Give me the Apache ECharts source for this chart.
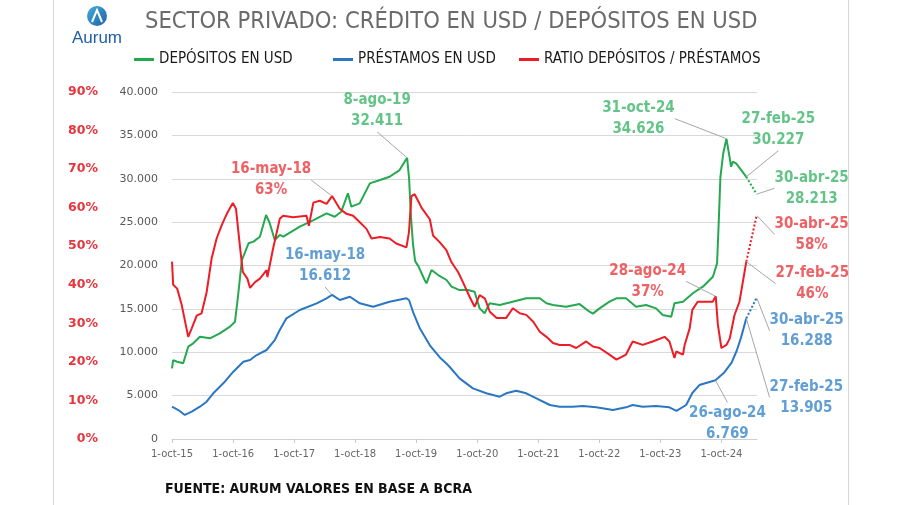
<!DOCTYPE html>
<html><head><meta charset="utf-8">
<script src="https://cdn.jsdelivr.net/npm/echarts@6/dist/echarts.min.js"></script>
<style>html,body{margin:0;padding:0;background:#fff}#c{width:900px;height:505px}</style>
</head><body><div id="c"></div>
<script>
// ---------- DATA ----------
const titleText = 'SECTOR PRIVADO: CRÉDITO EN USD / DEPÓSITOS EN USD';
const sourceText = 'FUENTE: AURUM VALORES EN BASE A BCRA';
const seriesNames = ['DEPÓSITOS EN USD', 'PRÉSTAMOS EN USD', 'RATIO DEPÓSITOS / PRÉSTAMOS'];

const xTickDates = ['2015-10-01','2016-10-01','2017-10-01','2018-10-01','2019-10-01','2020-10-01','2021-10-01','2022-10-01','2023-10-01','2024-10-01'];
const xTickLabels = ['1-oct-15','1-oct-16','1-oct-17','1-oct-18','1-oct-19','1-oct-20','1-oct-21','1-oct-22','1-oct-23','1-oct-24'];

// Depósitos en USD (millones)
const depDates = ['2015-10-01','2015-10-08','2015-11-01','2015-12-07','2016-01-06','2016-02-05','2016-03-16','2016-05-15','2016-07-13','2016-09-12','2016-10-12','2016-11-01','2016-11-22','2017-01-01','2017-01-31','2017-03-10','2017-04-16','2017-05-08','2017-06-07','2017-07-07','2017-07-28','2017-11-04','2018-01-25','2018-04-13','2018-06-01','2018-07-10','2018-08-19','2018-09-08','2018-10-28','2018-12-28','2019-02-27','2019-04-25','2019-06-24','2019-08-08','2019-08-20','2019-08-30','2019-09-12','2019-09-25','2019-10-15','2019-11-21','2019-12-02','2020-01-01','2020-02-10','2020-03-31','2020-04-30','2020-06-17','2020-08-06','2020-09-15','2020-10-15','2020-11-14','2020-12-14','2021-02-12','2021-05-01','2021-07-21','2021-10-10','2021-11-19','2021-12-28','2022-03-16','2022-06-05','2022-08-04','2022-08-24','2022-10-03','2022-10-14','2022-12-01','2023-01-12','2023-03-10','2023-05-09','2023-07-08','2023-09-06','2023-10-16','2023-12-06','2023-12-25','2024-02-14','2024-04-13','2024-06-12','2024-08-11','2024-09-05','2024-09-15','2024-09-25','2024-10-02','2024-10-12','2024-10-31','2024-11-15','2024-11-28','2024-12-08','2024-12-28','2025-01-20','2025-02-27'];
const depValues = [8150,9100,8900,8730,10640,11030,11790,11610,12180,12950,13520,16800,20630,22560,22750,23320,25820,24870,22940,23520,23320,24470,25240,26010,25620,26200,28320,26780,27160,29470,29850,30230,31000,32411,30000,26000,22500,20500,19900,18330,17950,19480,18900,18330,17560,17170,17170,16980,15060,14490,15640,15450,15830,16220,16220,15640,15450,15250,15550,14670,14450,15060,15250,15830,16220,16220,15250,15450,15060,14300,14100,15640,15830,16800,17560,18710,20250,25000,30230,30040,32920,34626,32920,31380,31960,31770,31190,30227];
const depProjDates = ['2025-02-27','2025-04-30'];
const depProjValues = [30227, 28213];

// Préstamos en USD (millones)
const loanDates = ['2015-10-01','2015-11-08','2015-12-17','2016-01-27','2016-03-16','2016-04-25','2016-06-04','2016-08-03','2016-10-02','2016-12-01','2017-01-10','2017-02-19','2017-04-19','2017-06-07','2017-07-07','2017-08-16','2017-11-04','2018-02-13','2018-04-13','2018-05-16','2018-07-01','2018-08-31','2018-10-29','2019-01-17','2019-04-25','2019-08-04','2019-08-20','2019-09-15','2019-10-22','2019-12-22','2020-02-20','2020-03-30','2020-04-18','2020-06-17','2020-09-05','2020-11-24','2021-02-12','2021-03-23','2021-05-22','2021-07-21','2021-09-20','2021-12-09','2022-02-06','2022-04-25','2022-06-25','2022-09-13','2022-12-22','2023-03-10','2023-04-19','2023-06-18','2023-09-06','2023-11-25','2024-01-06','2024-03-04','2024-04-10','2024-05-22','2024-08-26','2024-10-15','2024-12-01','2025-01-01','2025-01-25','2025-02-27'];
const loanValues = [3720,3340,2770,3150,3720,4300,5270,6420,7760,8910,9110,9680,10260,11410,12560,13910,14870,15640,16220,16612,16020,16400,15640,15250,15830,16220,16000,14500,12800,10800,9400,8700,8330,6990,5840,5270,4880,5270,5570,5270,4690,3920,3720,3720,3800,3650,3340,3650,3920,3720,3800,3650,3250,3920,5300,6220,6769,7600,8800,10200,11600,13905];
const loanProjDates = ['2025-02-27','2025-04-30'];
const loanProjValues = [13905, 16288];

// Ratio (%)
const ratioDates = ['2015-10-01','2015-10-08','2015-11-01','2015-11-28','2016-01-06','2016-01-27','2016-02-26','2016-03-26','2016-04-25','2016-05-25','2016-06-24','2016-07-24','2016-08-24','2016-09-29','2016-10-18','2016-11-12','2016-11-28','2016-12-25','2017-01-10','2017-02-09','2017-03-10','2017-04-19','2017-04-24','2017-05-28','2017-07-07','2017-07-27','2017-09-25','2017-12-14','2017-12-28','2018-01-24','2018-03-03','2018-04-13','2018-05-16','2018-07-01','2018-08-10','2018-09-19','2018-10-29','2018-12-08','2019-01-07','2019-02-27','2019-04-25','2019-06-04','2019-08-04','2019-08-19','2019-09-03','2019-09-22','2019-10-22','2019-11-02','2019-12-22','2020-01-10','2020-02-20','2020-03-30','2020-04-29','2020-06-08','2020-07-07','2020-08-16','2020-09-15','2020-10-15','2020-11-15','2020-12-15','2021-01-25','2021-03-23','2021-05-02','2021-06-12','2021-07-21','2021-09-01','2021-10-10','2021-11-19','2021-12-28','2022-02-06','2022-04-06','2022-05-16','2022-07-15','2022-08-24','2022-10-03','2022-12-01','2023-01-12','2023-03-10','2023-04-19','2023-06-18','2023-08-17','2023-10-27','2023-11-25','2023-12-25','2024-01-05','2024-02-14','2024-02-24','2024-03-25','2024-04-10','2024-05-12','2024-08-10','2024-08-28','2024-09-10','2024-10-01','2024-10-31','2024-11-20','2024-12-18','2025-01-17','2025-02-27'];
const ratioValues = [46,40,39,34.8,26.5,28.7,32,32.6,38,46.8,52,55.4,58.4,61.2,59.7,49.4,43.3,41.6,39.2,40.7,41.6,43.8,42,49.4,57.1,57.9,57.5,57.9,55.3,61.3,61.8,61,63,59.7,58.4,57.9,56.2,54.5,52,52.4,52,50.7,49.7,53.6,63,63.5,61,60,57,52.8,51,49,45.9,43.3,40.7,36.9,34.3,37.3,36.5,33,31.4,31.4,33.9,32.6,32.2,30.4,27.8,26.5,24.9,24.4,24.4,23.6,25.3,24,23.6,21.9,20.6,21.9,25.3,24.4,25.3,26.5,25.3,21,22.7,21.9,24.4,28.7,33.5,35.6,35.6,37,29.6,23.6,24.4,26.1,32.1,35.6,46];
const ratioProjDates = ['2025-02-27','2025-04-30'];
const ratioProjValues = [46, 58];

// Annotations: [date, date label, value label]
const depNotes = [['2019-08-08','8-ago-19','32.411'],['2024-10-31','31-oct-24','34.626'],['2025-02-27','27-feb-25','30.227'],['2025-04-30','30-abr-25','28.213']];
const loanNotes = [['2018-05-16','16-may-18','16.612'],['2024-08-26','26-ago-24','6.769'],['2025-02-27','27-feb-25','13.905'],['2025-04-30','30-abr-25','16.288']];
const ratioNotes = [['2018-05-16','16-may-18','63%'],['2024-08-28','28-ago-24','37%'],['2025-02-27','27-feb-25','46%'],['2025-04-30','30-abr-25','58%']];

// ---------- LAYOUT / STYLE ----------
const depOffsets = [[-30,-47],[-88,-20],[32,-47],[55,-6]];
const loanOffsets = [[-7,-29],[12,43],[60,79],[50,33]];
const ratioOffsets = [[-61,-16],[-68,-15],[66,22],[55,19]];

const GREEN = '#25a84f', BLUE = '#2a77c2', RED = '#ee1c25';
const GREEN_T = '#3db56a', BLUE_T = '#3a86c8', RED_T = '#ea3a3f';
const NARROW = '"Liberation Sans Narrow", "DejaVu Sans Condensed", sans-serif';

const T = s => new Date(s + 'T00:00:00').getTime();
const zip = (d, v) => d.map((s, i) => [T(s), v[i]]);
const xTickTimes = xTickDates.map(T);

function lookup(dates, vals, pDates, pVals, date) {
  let i = dates.indexOf(date);
  if (i >= 0) return vals[i];
  i = pDates.indexOf(date);
  return pVals[i];
}
function noteSeries(name, notes, offsets, dates, vals, pDates, pVals, yIdx, color) {
  return {
    name: name, type: 'scatter', yAxisIndex: yIdx, z: 10,
    symbol: 'circle', symbolSize: 1, itemStyle: { color: 'rgba(0,0,0,0)' },
    silent: true,
    data: notes.map(n => [T(n[0]), lookup(dates, vals, pDates, pVals, n[0])]),
    label: {
      show: true, position: 'inside',
      formatter: p => notes[p.dataIndex][1] + '\n' + notes[p.dataIndex][2],
      color: color, fontFamily: NARROW, fontWeight: 'bold', fontSize: 15, lineHeight: 21, align: 'center'
    },
    labelLine: { show: true, lineStyle: { color: '#a6a6a6', width: 1 } },
    labelLayout: p => ({ dx: offsets[p.dataIndex][0], dy: offsets[p.dataIndex][1] })
  };
}

const chart = echarts.init(document.getElementById('c'), null, { renderer: 'canvas' });
const legendBase = {
  top: 47, icon: 'rect', itemWidth: 20, itemHeight: 3, itemGap: 2,
  textStyle: { fontFamily: NARROW, fontSize: 15, color: '#1a1a1a' }
};

chart.setOption({
  animation: false,
  backgroundColor: '#fff',
  title: {
    text: titleText, left: 140, top: 5,
    textStyle: { fontFamily: NARROW, fontSize: 23.5, fontWeight: 'normal', color: '#6b6b6b' }
  },
  legend: [
    Object.assign({}, legendBase, { left: 129, data: [seriesNames[0]] }),
    Object.assign({}, legendBase, { left: 328, data: [seriesNames[1]] }),
    Object.assign({}, legendBase, { left: 514, data: [seriesNames[2]] })
  ],
  grid: { left: 172, right: 143, top: 92, bottom: 66 },
  xAxis: {
    type: 'value', min: T('2015-10-01'), max: T('2025-05-02'),
    axisLine: { lineStyle: { color: '#d0d0d0' } },
    axisTick: { show: true, length: 4, lineStyle: { color: '#c8c8c8' }, customValues: xTickTimes },
    axisLabel: {
      customValues: xTickTimes, color: '#666', fontSize: 10, fontFamily: 'DejaVu Sans', margin: 10,
      formatter: v => { const i = xTickTimes.indexOf(v); return i >= 0 ? xTickLabels[i] : ''; }
    },
    splitLine: { show: false }
  },
  yAxis: [
    {
      type: 'value', min: 0, max: 40000, interval: 5000, position: 'left',
      axisLine: { show: false }, axisTick: { show: false },
      splitLine: { lineStyle: { color: '#d9d9d9', width: 1 } },
      axisLabel: { color: '#595959', fontSize: 11, fontFamily: 'DejaVu Sans', margin: 14,
        formatter: v => String(v).replace(/\B(?=(\d{3})+(?!\d))/g, '.') }
    },
    {
      type: 'value', min: 0, max: 90, interval: 10, position: 'left', offset: 66,
      axisLine: { show: false }, axisTick: { show: false }, splitLine: { show: false },
      axisLabel: { color: '#e8343c', fontSize: 12.5, fontWeight: 'bold', fontFamily: 'DejaVu Sans', margin: 8,
        formatter: v => v + '%' }
    }
  ],
  graphic: [
    { type: 'line', shape: { x1: 53.5, y1: 0, x2: 53.5, y2: 505 }, style: { stroke: '#d6d6d6', lineWidth: 1 } },
    { type: 'line', shape: { x1: 848.5, y1: 0, x2: 848.5, y2: 505 }, style: { stroke: '#d6d6d6', lineWidth: 1 } },
    { type: 'circle', shape: { cx: 97, cy: 16, r: 10 },
      style: { fill: new echarts.graphic.LinearGradient(0, 0, 1, 1, [{ offset: 0, color: '#3fb0d8' }, { offset: 1, color: '#1f5fa8' }]) } },
    { type: 'polyline', shape: { points: [[92, 22], [97, 10], [102, 22]] }, style: { stroke: '#fff', lineWidth: 2, fill: null } },
    { type: 'text', x: 97, y: 38, style: { text: 'Aurum', fill: '#1f5fa8', fontSize: 17, fontFamily: '"Liberation Sans", sans-serif', align: 'center', verticalAlign: 'middle' } },
    { type: 'text', x: 165, y: 489, style: { text: sourceText, fill: '#111', fontSize: 14, fontWeight: 'bold', fontFamily: NARROW, verticalAlign: 'middle' } }
  ],
  series: [
    { name: seriesNames[0], type: 'line', yAxisIndex: 0, showSymbol: false, data: zip(depDates, depValues),
      lineStyle: { color: GREEN, width: 2 }, itemStyle: { color: GREEN }, z: 3 },
    { name: seriesNames[1], type: 'line', yAxisIndex: 0, showSymbol: false, data: zip(loanDates, loanValues),
      lineStyle: { color: BLUE, width: 2 }, itemStyle: { color: BLUE }, z: 3 },
    { name: seriesNames[2], type: 'line', yAxisIndex: 1, showSymbol: false, data: zip(ratioDates, ratioValues),
      lineStyle: { color: RED, width: 2 }, itemStyle: { color: RED }, z: 4 },
    { name: 'proyDep', type: 'line', yAxisIndex: 0, showSymbol: false, data: zip(depProjDates, depProjValues),
      lineStyle: { color: GREEN, width: 2, type: 'dotted' }, z: 3 },
    { name: 'proyLoan', type: 'line', yAxisIndex: 0, showSymbol: false, data: zip(loanProjDates, loanProjValues),
      lineStyle: { color: BLUE, width: 2, type: 'dotted' }, z: 3 },
    { name: 'proyRatio', type: 'line', yAxisIndex: 1, showSymbol: false, data: zip(ratioProjDates, ratioProjValues),
      lineStyle: { color: RED, width: 2, type: 'dotted' }, z: 4 },
    noteSeries('notaDep', depNotes, depOffsets, depDates, depValues, depProjDates, depProjValues, 0, GREEN_T),
    noteSeries('notaLoan', loanNotes, loanOffsets, loanDates, loanValues, loanProjDates, loanProjValues, 0, BLUE_T),
    noteSeries('notaRatio', ratioNotes, ratioOffsets, ratioDates, ratioValues, ratioProjDates, ratioProjValues, 1, RED_T)
  ]
});
</script>
</body></html>
